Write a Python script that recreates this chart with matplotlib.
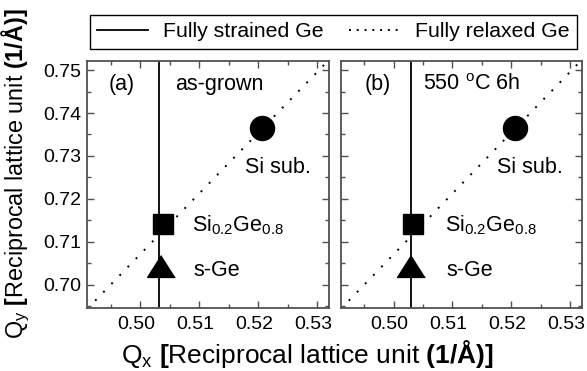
import matplotlib
matplotlib.use("Agg")
import matplotlib.pyplot as plt
import matplotlib.transforms as mtransforms
import numpy as np
from matplotlib.lines import Line2D

plt.rcParams['font.family'] = ['Liberation Sans', 'DejaVu Sans']
plt.rcParams['mathtext.fontset'] = 'custom'
plt.rcParams['mathtext.rm'] = 'Liberation Sans'
plt.rcParams['mathtext.it'] = 'Liberation Sans:italic'
plt.rcParams['mathtext.bf'] = 'Liberation Sans:bold'

# ---- data ----
panel_labels = ["(a)", "(b)"]
panel_titles = ["as-grown", "550 $^\\mathrm{o}$C 6h"]
strained_qx = [0.5032, 0.5030]          # fully strained Ge (vertical line)
relaxed_slope = np.sqrt(2.0)           # fully relaxed Ge: Qy = sqrt(2) * Qx
si_sub_qx = [0.5206, 0.5206]
si_sub_qy = [0.7364, 0.7364]
sige_qx = [0.5038, 0.5033]
sige_qy = [0.7142, 0.7142]
sge_qx = [0.5035, 0.5030]
sge_qy = [0.7045, 0.7045]
xticks = [0.50, 0.51, 0.52, 0.53]
yticks = [0.70, 0.71, 0.72, 0.73, 0.74, 0.75]
xlim = (0.4910, 0.5320)
ylim = (0.6947, 0.7521)

W, H = 587, 371
fig = plt.figure(figsize=(W / 100, H / 100), dpi=100)

spine_col = '#505050'
tri = [(0, 1), (-1.27, -1), (1.27, -1)]

# text anchor positions (axes fraction) per panel
lab_pos = [(0.145, 0.903), (0.152, 0.903)]
title_pos = [(0.364, 0.903), (0.340, 0.903)]
sub_pos = [(0.653, 0.570), (0.647, 0.570)]
sige_pos = [(0.434, 0.335), (0.434, 0.335)]
sge_pos = [(0.438, 0.149), (0.438, 0.149)]

axes_px = [(87, 329), (340.7, 581.7)]
top_px, bot_px = 61, 307.7
for i, (l, r) in enumerate(axes_px):
    ax = fig.add_axes([l / W, 1 - bot_px / H, (r - l) / W, (bot_px - top_px) / H])
    ax.set_xlim(*xlim)
    ax.set_ylim(*ylim)
    xs = np.array(xlim)
    ax.plot(xs, relaxed_slope * xs, color='black', lw=1.4,
            linestyle=(0, (1, 5.0)), dash_capstyle='butt', zorder=2)
    ax.axvline(strained_qx[i], color='black', lw=1.3, zorder=2)
    ax.plot([si_sub_qx[i]], [si_sub_qy[i]], 'o', color='black', ms=17.3, zorder=3)
    ax.plot([sige_qx[i]], [sige_qy[i]], 's', color='black', ms=14.4, zorder=3)
    ax.plot([sge_qx[i]], [sge_qy[i]], marker=tri, ls='none', color='black', ms=20, zorder=3)

    ax.set_xticks(xticks)
    ax.set_yticks(yticks)
    ax.set_xticks(np.arange(0.495, 0.5326, 0.005), minor=True)
    ax.set_yticks(np.arange(0.695, 0.7526, 0.005), minor=True)
    ax.xaxis.set_major_formatter(matplotlib.ticker.FormatStrFormatter('%.2f'))
    ax.yaxis.set_major_formatter(matplotlib.ticker.FormatStrFormatter('%.2f'))
    ax.tick_params(which='both', direction='in', top=True, right=True,
                   color=spine_col, width=1.0)
    ax.tick_params(which='major', length=5, labelsize=14, pad=4)
    ax.tick_params(which='minor', length=3)
    ax.tick_params(axis='x', which='major', pad=6)
    shift = mtransforms.ScaledTranslation(-4 / 100, 0, fig.dpi_scale_trans)
    for lbl in ax.get_xticklabels():
        lbl.set_transform(lbl.get_transform() + shift)
    if i == 1:
        ax.tick_params(axis='y', labelleft=False)
    for s in ax.spines.values():
        s.set_color(spine_col)
        s.set_linewidth(1.3)

    ax.text(*lab_pos[i], panel_labels[i], transform=ax.transAxes,
            fontsize=15.5, ha='center', va='center')
    ax.text(*title_pos[i], panel_titles[i], transform=ax.transAxes,
            fontsize=15.5, ha='left', va='center')
    ax.text(*sub_pos[i], "Si sub.", transform=ax.transAxes,
            fontsize=15.5, ha='left', va='center')
    ax.text(*sige_pos[i], "Si$_{0.2}$Ge$_{0.8}$", transform=ax.transAxes,
            fontsize=15.5, ha='left', va='center')
    ax.text(*sge_pos[i], "s-Ge", transform=ax.transAxes,
            fontsize=15.5, ha='left', va='center')

handles = [Line2D([], [], color='black', lw=1.3),
           Line2D([], [], color='black', lw=1.4, linestyle=(0, (1, 3)))]
fig.legend(handles, ["Fully strained Ge", "Fully relaxed Ge"], ncol=2,
           loc='center', bbox_to_anchor=(0.568, 0.914), fontsize=15.3,
           frameon=True, fancybox=False, edgecolor='black', framealpha=1,
           handlelength=2.4, handletextpad=0.7, columnspacing=1.2,
           borderpad=0.35, borderaxespad=0)

fig.text(307 / W, 1 - 354 / H,
         r"Q$_\mathrm{x}$ $\mathbf{[}$Reciprocal lattice unit $\mathbf{(1/Å)]}$",
         fontsize=19, ha='center', va='center')
fig.text(16 / W, 1 - 174 / H,
         r"Q$_\mathrm{y}$ $\mathbf{[}$Reciprocal lattice unit $\mathbf{(1/Å)]}$",
         fontsize=16.8, ha='center', va='center', rotation=90)

fig.savefig("out.png", dpi=100)
